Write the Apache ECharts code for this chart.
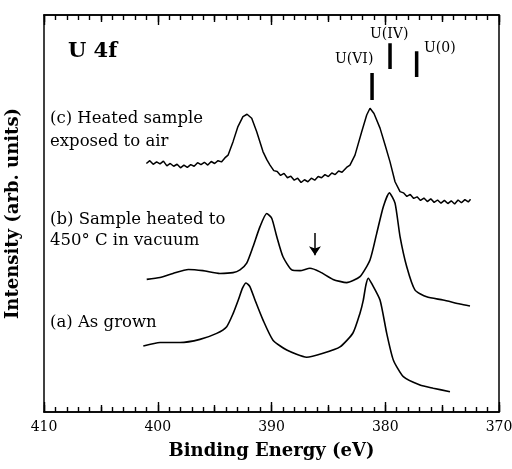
<!DOCTYPE html>
<html><head><meta charset="utf-8">
<script src="https://cdn.jsdelivr.net/npm/echarts@6/dist/echarts.min.js"></script>
<style>html,body{margin:0;padding:0;background:#fff}#c{width:512px;height:469px}</style>
</head><body><div id="c"></div>
<script>
// Binding energy (eV) and intensity (arb. units) for each spectrum
const cE = [401.0,400.7,400.4,400.1,399.8,399.5,399.2,398.9,398.6,398.3,398.0,397.7,397.4,397.1,396.8,396.5,396.2,395.9,395.6,395.3,395.0,394.7,394.4,394.1,
  393.82,393.38,392.95,392.51,392.15,391.74,391.3,390.75,390.4,390.13,389.8,389.5,389.2,388.9,388.6,388.3,388.0,387.7,387.4,387.1,386.8,386.5,386.2,385.9,385.6,385.3,385.0,384.7,384.4,384.1,383.8,383.4,383.1,
  382.66,382.07,381.63,381.34,380.99,380.46,380.02,379.58,379.14,378.7,378.4,378.1,377.8,377.5,377.2,376.9,376.6,376.3,376.0,375.7,375.4,375.1,374.8,374.5,374.2,373.9,373.6,373.3,373.0,372.7,372.5];
const cI = [62.6,63.3,62.4,63.0,62.5,63.2,62.0,62.6,61.9,62.4,61.5,62.2,61.6,62.3,61.9,62.8,62.3,62.9,62.2,63.1,62.6,63.3,63.0,64.0,
  64.7,68.1,71.9,74.4,75.0,74.0,70.6,65.6,63.5,62.2,60.8,60.6,59.6,60.1,59.0,59.4,58.4,58.9,57.8,58.5,58.0,58.9,58.4,59.3,59.0,59.8,59.3,60.2,59.8,60.7,60.4,61.6,62.2,
  64.7,70.6,74.8,76.5,75.2,71.5,67.3,63.0,58.0,55.5,55.2,54.3,54.8,53.8,54.2,53.3,53.9,53.0,53.7,52.8,53.4,52.6,53.3,52.5,53.2,52.4,53.4,52.7,53.5,52.9,53.6];
const bE = [400.97,399.8,398.66,397.31,396.02,394.53,393.38,392.77,392.18,391.63,391.01,390.42,389.98,389.54,388.99,388.22,387.49,386.62,385.74,384.59,383.39,382.22,381.34,380.75,380.17,379.64,379.14,378.7,378.11,377.38,376.36,374.92,373.43,372.55];
const bI = [33.4,33.9,34.9,35.9,35.6,34.9,35.1,35.8,37.5,41.6,46.7,50.0,48.8,44.2,39.1,35.8,35.6,36.2,35.3,33.4,32.6,34.1,38.3,45.0,51.7,55.2,52.6,44.2,36.6,30.7,29.0,28.2,27.2,26.7];
const aE = [401.27,399.8,398.04,396.29,394.82,393.94,393.36,392.92,392.55,392.24,391.9,391.45,390.75,389.87,388.66,386.91,385.47,383.98,382.84,382.22,381.93,381.7,381.49,381.2,380.46,379.87,379.29,378.41,376.95,375.78,374.31];
const aI = [16.6,17.5,17.5,18.3,19.8,21.5,24.9,28.2,31.2,32.5,31.6,28.2,23.2,18.1,15.6,13.8,14.8,16.4,19.9,24.9,28.2,32.0,33.7,32.4,28.2,19.8,13.1,8.9,6.8,6.0,5.1];
// Reference marker positions (eV) and their vertical extents
const markerNames = ["U(VI)","U(IV)","U(0)"];
const markerE = [381.16,379.58,377.24];
const markerLo = [78.6,86.4,84.4];
const markerHi = [85.4,92.9,90.9];
// Arrow on spectrum (b)
const arrowE = 386.18, arrowFrom = 45.1, arrowTo = 39.5;

const zip = (x,y)=>x.map((v,i)=>[v,y[i]]);
const chart = echarts.init(document.getElementById('c'), null, {renderer:'canvas'});
const serif = 'DejaVu Serif';
const baseX = {type:'value',min:370,max:410,inverse:true,splitLine:{show:false},
  axisLine:{show:true,onZero:false,lineStyle:{color:'#000',width:1.5}}};
const lineStyle = {color:'#000',width:1.6};
const series = [
  {type:'line',data:zip(cE,cI),showSymbol:false,lineStyle:{color:'#000',width:1.5},animation:false},
  {type:'line',data:zip(bE,bI),showSymbol:false,lineStyle:lineStyle,animation:false,smooth:0.2},
  {type:'line',data:zip(aE,aI),showSymbol:false,lineStyle:lineStyle,animation:false,smooth:0.2}
];
markerE.forEach((e,i)=>series.push({type:'line',data:[[e,markerLo[i]],[e,markerHi[i]]],showSymbol:false,
  lineStyle:{color:'#000',width:3.5},animation:false}));
series.push({type:'lines',coordinateSystem:'cartesian2d',symbol:['none','arrow'],symbolSize:9,
  lineStyle:{color:'#000',width:1.5,opacity:1},data:[{coords:[[arrowE,arrowFrom],[arrowE,arrowTo]]}],animation:false});

const tickStyle = {color:'#000',width:1.4};
chart.setOption({
  animation:false,
  grid:{left:44,right:13,top:15,bottom:57,outerBoundsMode:'none'},
  xAxis:[
    Object.assign({},baseX,{position:'bottom',interval:10,
      axisTick:{show:true,inside:true,length:10,lineStyle:tickStyle},
      minorTick:{show:true,splitNumber:10,length:5,lineStyle:tickStyle},
      axisLabel:{color:'#000',fontFamily:serif,fontSize:14,margin:8},
      name:'Binding Energy (eV)',nameLocation:'middle',nameGap:30,
      nameTextStyle:{color:'#000',fontFamily:serif,fontWeight:'bold',fontSize:18}}),
    Object.assign({},baseX,{position:'bottom',interval:5,
      axisTick:{show:true,inside:true,length:7,lineStyle:tickStyle},axisLabel:{show:false}}),
    Object.assign({},baseX,{position:'top',interval:10,
      axisTick:{show:true,inside:true,length:10,lineStyle:tickStyle},
      minorTick:{show:true,splitNumber:10,length:5,lineStyle:tickStyle},axisLabel:{show:false}}),
    Object.assign({},baseX,{position:'top',interval:5,
      axisTick:{show:true,inside:true,length:7,lineStyle:tickStyle},axisLabel:{show:false}})
  ],
  yAxis:[
    {type:'value',min:0,max:100,position:'left',splitLine:{show:false},axisTick:{show:false},axisLabel:{show:false},
      axisLine:{show:true,onZero:false,lineStyle:{color:'#000',width:1.5}},
      name:'Intensity (arb. units)',nameLocation:'middle',nameGap:22,nameRotate:90,
      nameTextStyle:{color:'#000',fontFamily:serif,fontWeight:'bold',fontSize:18}},
    {type:'value',min:0,max:100,position:'right',splitLine:{show:false},axisTick:{show:false},axisLabel:{show:false},
      axisLine:{show:true,onZero:false,lineStyle:{color:'#000',width:1.5}}}
  ],
  series:series,
  graphic:[
    {type:'text',left:68,top:41,style:{text:'U 4f',font:'bold 21px "DejaVu Serif"',fill:'#000'}},
    {type:'text',left:335,top:52,style:{text:'U(VI)',font:'14px "DejaVu Serif"',fill:'#000'}},
    {type:'text',left:370,top:27,style:{text:'U(IV)',font:'14px "DejaVu Serif"',fill:'#000'}},
    {type:'text',left:424,top:41,style:{text:'U(0)',font:'14px "DejaVu Serif"',fill:'#000'}},
    {type:'text',left:50,top:107,style:{text:'(c) Heated sample\nexposed to air',font:'16.5px "DejaVu Serif"',lineHeight:23,fill:'#000'}},
    {type:'text',left:50,top:209,style:{text:'(b) Sample heated to\n450° C in vacuum',font:'16.5px "DejaVu Serif"',lineHeight:21,fill:'#000'}},
    {type:'text',left:50,top:314,style:{text:'(a) As grown',font:'16.5px "DejaVu Serif"',fill:'#000'}}
  ]
});
</script></body></html>
